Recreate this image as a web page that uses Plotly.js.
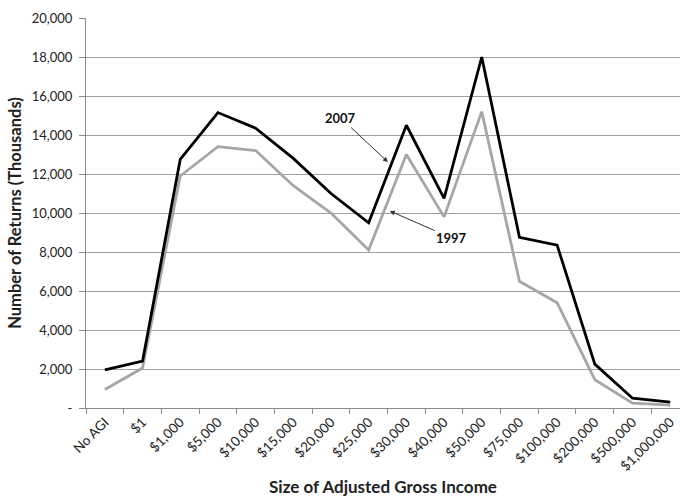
<!DOCTYPE html>
<html>
<head>
<meta charset="utf-8">
<script src="https://cdn.plot.ly/plotly-3.0.1.min.js"></script>
<style>html,body{margin:0;padding:0;background:#fff;overflow:hidden;}#chart{width:680px;height:501px;}</style>
</head>
<body>
<div id="chart"></div>
<script>
const categories = ["No AGI", "$1", "$1,000", "$5,000", "$10,000", "$15,000", "$20,000", "$25,000", "$30,000", "$40,000", "$50,000", "$75,000", "$100,000", "$200,000", "$500,000", "$1,000,000"];
const returns2007 = [1950, 2400, 12750, 15150, 14350, 12800, 11000, 9500, 14500, 10750, 18000, 8750, 8350, 2250, 500, 300];
const returns1997 = [950, 2050, 11900, 13400, 13200, 11400, 10000, 8100, 13000, 9800, 15200, 6500, 5400, 1450, 250, 150];
const yTickVals = [0, 2000, 4000, 6000, 8000, 10000, 12000, 14000, 16000, 18000, 20000];
const yTickText = ["-", "2,000", "4,000", "6,000", "8,000", "10,000", "12,000", "14,000", "16,000", "18,000", "20,000"];

const font = "Lato, 'Open Sans', 'DejaVu Sans', sans-serif";

const traces = [
  {x: categories, y: returns1997, type: "scatter", mode: "lines", name: "1997",
   line: {color: "#a6a6a6", width: 2.8}},
  {x: categories, y: returns2007, type: "scatter", mode: "lines", name: "2007",
   line: {color: "#000000", width: 2.8}}
];

const layout = {
  width: 680, height: 501,
  margin: {l: 86, r: 0, t: 18, b: 93},
  paper_bgcolor: "#ffffff", plot_bgcolor: "#ffffff",
  showlegend: false,
  font: {family: font, size: 12, color: "#222222"},
  xaxis: {
    type: "category",
    range: [-0.5, 15.26],
    tickson: "boundaries",
    ticks: "outside", ticklen: 5, tickcolor: "#8c8c8c",
    showgrid: false,
    showline: true, linecolor: "#8c8c8c", linewidth: 1,
    tickangle: -45,
    tickfont: {family: font, size: 13.5, color: "#222222"},
    title: {text: "Size of Adjusted Gross Income", font: {family: font, size: 17, color: "#222222", weight: "bold"}, standoff: 8},
    fixedrange: true
  },
  yaxis: {
    range: [0, 20000],
    tickvals: yTickVals, ticktext: yTickText,
    ticks: "outside", ticklen: 6, tickcolor: "#8c8c8c",
    ticklabelstandoff: 4,
    showgrid: true, gridcolor: "#a0a0a0", gridwidth: 1,
    zeroline: false,
    showline: true, linecolor: "#8c8c8c", linewidth: 1,
    tickfont: {family: font, size: 13, color: "#222222"},
    title: {text: "Number of Returns (Thousands)", font: {family: font, size: 16.5, color: "#222222", weight: "bold"}, standoff: 5},
    fixedrange: true
  },
  annotations: [
    {x: 7.51, y: 12615, xref: "x", yref: "y", text: "<b>2007</b>", showarrow: true,
     arrowhead: 2, arrowsize: 1, arrowwidth: 1, arrowcolor: "#333333",
     ax: -47, ay: -44, font: {family: font, size: 13, color: "#111111"}},
    {x: 7.56, y: 10103, xref: "x", yref: "y", text: "<b>1997</b>", showarrow: true,
     arrowhead: 2, arrowsize: 1, arrowwidth: 1, arrowcolor: "#333333",
     ax: 62, ay: 27, font: {family: font, size: 13, color: "#111111"}}
  ]
};

Plotly.newPlot("chart", traces, layout, {displayModeBar: false, staticPlot: true});
</script>
</body>
</html>
